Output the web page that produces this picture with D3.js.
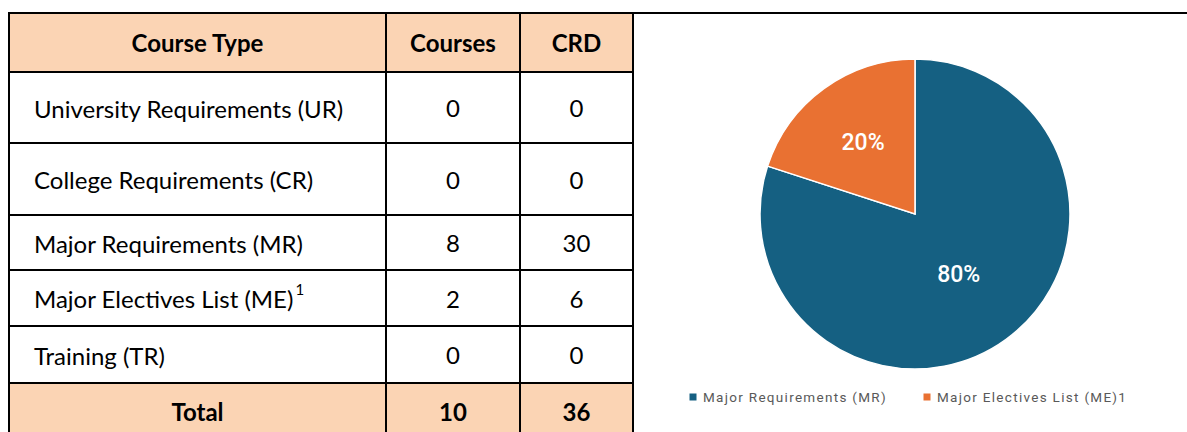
<!doctype html>
<html lang="en">
<head>
<meta charset="utf-8">
<script src="https://cdn.jsdelivr.net/npm/d3@7"></script>
<style>
	body{
		padding:0px;
		margin:0px;
		background:#fff;
	}
</style>
</head>
<body>
<svg id="chartSvg"></svg>
<script>
// table data
var courseTypes = ["University Requirements (UR)", "College Requirements (CR)", "Major Requirements (MR)", "Major Electives List (ME)", "Training (TR)"];
var footnotes = ["", "", "", "1", ""];
var courseCounts = [0, 0, 8, 2, 0];
var credits = [0, 0, 30, 6, 0];
var headers = ["Course Type", "Courses", "CRD"];
var totalLabel = "Total";

// pie data (share of courses)
var pieLabels = ["Major Requirements (MR)", "Major Electives List (ME)1"];
var pieValues = [8, 2];
var colors = ["#156082", "#E97132"];

var width = 1187;
var height = 432;
var svg = d3.select("#chartSvg").attr("width", width).attr("height", height);

//table layout
var colX = [9, 386, 520, 633];
var rowH = [59, 71, 72, 55, 56, 57, 57];
var rowY = [13];
for(var i=0;i<rowH.length;i++){
	rowY.push(rowY[i]+rowH[i]);
}
var tableFont = "Lato, 'Open Sans', sans-serif";
var tableSize = 24;
var fill = "#FBD4B4";

//header + total background
svg.append("rect")
	.attr("x", colX[0]).attr("y", rowY[0])
	.attr("width", colX[3]-colX[0]).attr("height", rowH[0])
	.attr("fill", fill);
svg.append("rect")
	.attr("x", colX[0]).attr("y", rowY[6])
	.attr("width", colX[3]-colX[0]).attr("height", rowH[6])
	.attr("fill", fill);

function cellMid(r){ return (rowY[r]+rowY[r+1])/2; }
function colMid(c){ return (colX[c]+colX[c+1])/2; }

//header text
var head = svg.append("g");
for(var c=0;c<headers.length;c++){
	head.append("text")
		.attr("x", colMid(c))
		.attr("y", cellMid(0))
		.attr("text-anchor","middle")
		.attr("dominant-baseline","central")
		.attr("font-family", tableFont)
		.attr("font-weight","bold")
		.attr("font-size",tableSize)
		.attr("fill","#000")
		.text(headers[c]);
}

//body rows
var body = svg.append("g");
for(var i=0;i<courseTypes.length;i++){
	var t = body.append("text")
		.attr("x", colX[0]+25)
		.attr("y", cellMid(i+1))
		.attr("dominant-baseline","central")
		.attr("font-family", tableFont)
		.attr("font-size",tableSize)
		.attr("fill","#000");
	t.append("tspan").text(courseTypes[i]);
	if(footnotes[i]){
		t.append("tspan")
			.attr("dx",2)
			.attr("dy",-9)
			.attr("font-size",15)
			.text(footnotes[i]);
	}
	[courseCounts[i], credits[i]].forEach(function(v, k){
		body.append("text")
			.attr("x", colMid(k+1))
			.attr("y", cellMid(i+1))
			.attr("text-anchor","middle")
			.attr("dominant-baseline","central")
			.attr("font-family", tableFont)
			.attr("font-size",tableSize)
			.attr("fill","#000")
			.text(v);
	});
}

//total row
var totals = [totalLabel, d3.sum(courseCounts), d3.sum(credits)];
totals.forEach(function(v, k){
	svg.append("text")
		.attr("x", colMid(k))
		.attr("y", cellMid(6))
		.attr("text-anchor","middle")
		.attr("dominant-baseline","central")
		.attr("font-family", tableFont)
		.attr("font-weight","bold")
		.attr("font-size",tableSize)
		.attr("fill","#000")
		.text(v);
});

//grid lines
var grid = svg.append("g").attr("stroke","#000").attr("stroke-width",2);
grid.append("line").attr("x1", colX[0]).attr("x2", width).attr("y1", rowY[0]).attr("y2", rowY[0]);
for(var r=1;r<rowY.length-1;r++){
	grid.append("line").attr("x1", colX[0]-1).attr("x2", colX[3]+1).attr("y1", rowY[r]).attr("y2", rowY[r]);
}
colX.forEach(function(x){
	grid.append("line").attr("x1", x).attr("x2", x).attr("y1", rowY[0]-1).attr("y2", height);
});

//pie
var cx = 915, cy = 214, radius = 155;
var pie = d3.pie().sort(null).value(function(d){return d;});
var arcs = pie(pieValues);
var arc = d3.arc().innerRadius(0).outerRadius(radius);
var total = d3.sum(pieValues);
var pct = d3.format(".0%");

var pg = svg.append("g").attr("transform","translate("+cx+","+cy+")");
pg.selectAll("path")
	.data(arcs)
	.enter()
	.append("path")
	.attr("d", arc)
	.attr("fill", function(d,i){return colors[i];})
	.attr("stroke","#fff")
	.attr("stroke-width",1.5);

pg.selectAll("text")
	.data(arcs)
	.enter()
	.append("text")
	.attr("transform", function(d){
		var lr = d.value/total > 0.5 ? radius*0.48 : radius*0.57;
		var c = d3.arc().innerRadius(lr).outerRadius(lr).centroid(d);
		return "translate("+c[0]+","+c[1]+")";
	})
	.attr("text-anchor","middle")
	.attr("dominant-baseline","central")
	.attr("font-family","Roboto, 'Liberation Sans', sans-serif")
	.attr("font-weight",500)
	.attr("font-size",23)
	.attr("fill","#fff")
	.text(function(d){return pct(d.value/total);});

//legend
var legX = [693, 927];
var legY = 397;
for(var i=0;i<pieLabels.length;i++){
	svg.append("rect")
		.attr("x", legX[i]-3.5)
		.attr("y", legY-3.5)
		.attr("width",7)
		.attr("height",7)
		.attr("fill", colors[i]);
	svg.append("text")
		.attr("x", legX[i]+10)
		.attr("y", legY)
		.attr("dominant-baseline","central")
		.attr("font-family","'Liberation Sans Narrow', 'Roboto', sans-serif")
		.attr("font-size",13.5)
		.attr("letter-spacing",1.3)
		.attr("fill","#595959")
		.text(pieLabels[i]);
}
</script>
</body>
</html>
